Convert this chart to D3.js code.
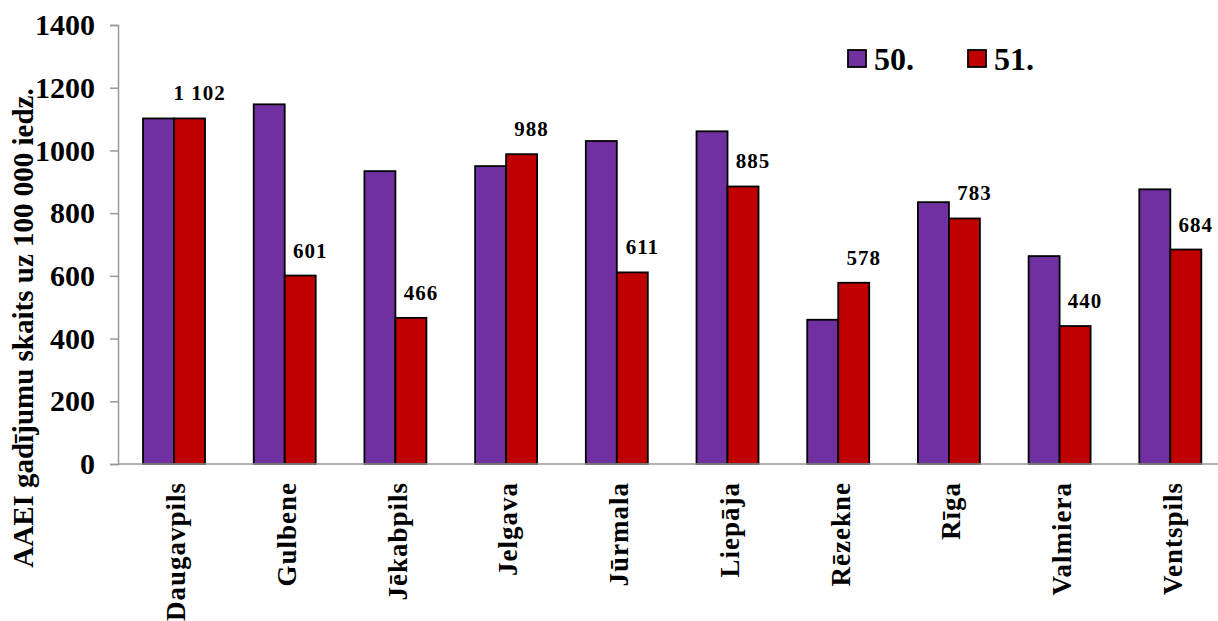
<!DOCTYPE html>
<html>
<head>
<meta charset="utf-8">
<script src="https://cdn.jsdelivr.net/npm/d3@7"></script>
<style>
  body { margin: 0; background: #fff; }
  svg text { font-family: "Liberation Serif", "Times New Roman", Times, "DejaVu Serif", serif; font-weight: bold; }
</style>
</head>
<body>
<div class="chart"></div>
<script>
const cities = ["Daugavpils", "Gulbene", "Jēkabpils", "Jelgava", "Jūrmala", "Liepāja", "Rēzekne", "Rīga", "Valmiera", "Ventspils"];
const week50 = [1102, 1147, 934, 950, 1030, 1061, 460, 835, 663, 876];
const week51 = [1102, 601, 466, 988, 611, 885, 578, 783, 440, 684];
const seriesNames = ["50.", "51."];
const yTicks = [0, 200, 400, 600, 800, 1000, 1200, 1400];

const width = 1218, height = 621;
const plot = { left: 118, right: 1225, top: 25, bottom: 464 };

const svg = d3.select(".chart").append("svg")
  .attr("width", width).attr("height", height);

const x = d3.scaleBand().domain(cities).range([plot.left, plot.right]);
const inner = d3.scaleBand().domain([0, 1]).range([x.bandwidth() * 0.226, x.bandwidth() * 0.786]);
const y = d3.scaleLinear().domain([0, 1400]).range([plot.bottom, plot.top]);
const colors = ["#7030A0", "#C00000"];

// y axis
const yAxis = svg.append("g")
  .attr("transform", `translate(${plot.left},0)`)
  .call(d3.axisLeft(y).tickValues(yTicks).tickFormat(d => d).tickSize(8).tickPadding(15));
yAxis.attr("font-family", null).attr("font-size", null);
yAxis.select(".domain").attr("stroke", "#999").attr("stroke-width", 1.5);
yAxis.selectAll(".tick line").attr("stroke", "#999").attr("stroke-width", 1.5);
yAxis.selectAll(".tick text")
  .attr("font-size", 30)
  .attr("fill", "#000");

svg.append("text")
  .attr("transform", `translate(33,328) rotate(-90)`)
  .attr("text-anchor", "middle")
  .attr("font-size", 29)
  .text("AAEI gadījumu skaits uz 100 000 iedz.");

// bars
const groups = svg.selectAll(".grp")
  .data(cities)
  .join("g")
  .attr("transform", d => `translate(${x(d)},0)`);

groups.selectAll("rect")
  .data((d, i) => [week50[i], week51[i]])
  .join("rect")
  .attr("x", (d, j) => inner(j))
  .attr("width", inner.bandwidth())
  .attr("y", d => y(d))
  .attr("height", d => y(0) - y(d))
  .attr("fill", (d, j) => colors[j])
  .attr("stroke", "#000")
  .attr("stroke-width", 1.8);

// value labels on week 51
groups.append("text")
  .attr("x", inner(1) + inner.bandwidth() / 2 + 10)
  .attr("y", (d, i) => y(week51[i]) - 18)
  .attr("text-anchor", "middle")
  .attr("font-size", 21)
  .attr("letter-spacing", 1)
  .text((d, i) => d3.format(",")(week51[i]).replace(",", " "));

// x axis line
svg.append("line")
  .attr("x1", plot.left).attr("x2", plot.right)
  .attr("y1", plot.bottom).attr("y2", plot.bottom)
  .attr("stroke", "#999").attr("stroke-width", 1.5);

// x labels
svg.selectAll(".xl")
  .data(cities)
  .join("text")
  .attr("transform", d => `translate(${x(d) + x.bandwidth() / 2 + 12},482) rotate(-90)`)
  .attr("text-anchor", "end")
  .attr("font-size", 27)
  .attr("letter-spacing", 1)
  .text(d => d);

// legend
const legend = svg.append("g");
seriesNames.forEach((s, i) => {
  const lx = 848 + i * 120;
  legend.append("rect")
    .attr("x", lx).attr("y", 50).attr("width", 18).attr("height", 17)
    .attr("fill", colors[i]).attr("stroke", "#000").attr("stroke-width", 1.8);
  legend.append("text")
    .attr("x", lx + 26).attr("y", 70)
    .attr("font-size", 32)
    .text(s);
});
</script>
</body>
</html>
